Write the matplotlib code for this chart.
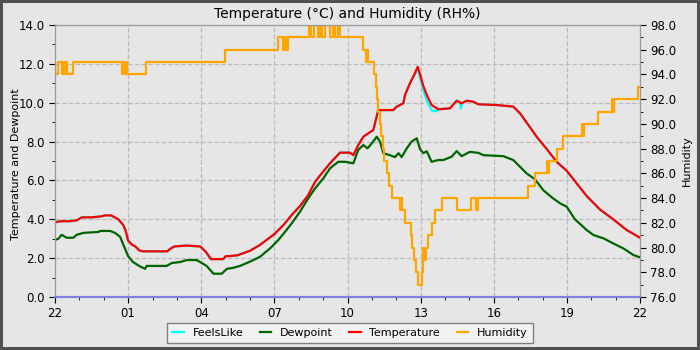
import numpy as np
import pandas as pd
import matplotlib
matplotlib.use("Agg")
import matplotlib.pyplot as plt
import matplotlib.dates as mdates
from matplotlib.ticker import MultipleLocator, FormatStrFormatter

start = pd.Timestamp("2024-01-01 22:00")

# hours after 22:00, readings
temp_hours = [0.0, 0.25, 0.6, 0.9, 1.1, 1.5, 1.9, 2.05, 2.3, 2.45, 2.6, 2.7, 2.8, 2.9,
              3.0, 3.15, 3.3, 3.45, 3.6, 4.6, 4.75, 4.9, 5.4, 5.95, 6.05, 6.2, 6.4,
              6.9, 7.0, 7.2, 7.5, 7.6, 8.0, 8.41, 8.82, 9.0, 9.37, 9.71, 10.05, 10.39,
              10.67, 10.94, 11.28, 11.69, 12.1, 12.24, 12.44, 12.65, 13.06, 13.26,
              13.88, 14.02, 14.29, 14.36, 14.56, 14.7, 14.88, 14.97, 15.1, 15.25,
              15.45, 15.73, 16.2, 16.48, 16.68, 16.89, 17.16, 17.37, 18.12, 18.8,
              19.08, 19.42, 19.76, 20.17, 20.58, 20.99, 21.4, 21.81, 22.36, 22.9,
              23.45, 24.0]
temperature = [3.85, 3.9, 3.9, 3.95, 4.1, 4.1, 4.15, 4.2, 4.2, 4.1, 4.0, 3.85, 3.7, 3.4,
               2.9, 2.7, 2.6, 2.4, 2.35, 2.35, 2.5, 2.6, 2.65, 2.6, 2.5, 2.3, 1.95,
               1.95, 2.1, 2.11, 2.15, 2.2, 2.38, 2.68, 3.07, 3.24, 3.7, 4.22, 4.68, 5.25,
               5.93, 6.36, 6.88, 7.43, 7.43, 7.3, 7.82, 8.25, 8.6, 9.62,
               9.62, 9.8, 9.97, 10.4, 11.0, 11.34, 11.85, 11.5, 10.9, 10.4,
               9.88, 9.66, 9.71, 10.1, 9.97, 10.1, 10.05, 9.92, 9.88, 9.8,
               9.45, 8.85, 8.25, 7.62, 6.96, 6.5, 5.85, 5.2, 4.5, 4.0,
               3.45, 3.05]

feels_hours = [0.0, 0.25, 0.6, 0.9, 1.1, 1.5, 1.9, 2.05, 2.3, 2.45, 2.6, 2.7, 2.8, 2.9,
               3.0, 3.15, 3.3, 3.45, 3.6, 4.6, 4.75, 4.9, 5.4, 5.95, 6.05, 6.2, 6.4,
               6.9, 7.0, 7.2, 7.5, 7.6, 8.0, 8.41, 8.82, 9.0, 9.37, 9.71, 10.05, 10.39,
               10.67, 10.94, 11.28, 11.69, 12.1, 12.24, 12.44, 12.65, 13.06, 13.26,
               13.88, 14.02, 14.29, 14.36, 14.56, 14.7, 14.88, 14.97, 15.1, 15.25,
               15.45, 15.6, 15.73, 16.2, 16.48, 16.6, 16.65, 16.7, 16.89, 17.16, 17.37,
               18.12, 18.8, 19.08, 19.42, 19.76, 20.17, 20.58, 20.99, 21.4, 21.81,
               22.36, 22.9, 23.45, 24.0]
feels_like = [3.85, 3.9, 3.9, 3.95, 4.1, 4.1, 4.15, 4.2, 4.2, 4.1, 4.0, 3.85, 3.7, 3.4,
              2.9, 2.7, 2.6, 2.4, 2.35, 2.35, 2.5, 2.6, 2.65, 2.6, 2.5, 2.3, 1.95,
              1.95, 2.1, 2.11, 2.15, 2.2, 2.38, 2.68, 3.07, 3.24, 3.7, 4.22, 4.68, 5.25,
              5.93, 6.36, 6.88, 7.43, 7.43, 7.3, 7.82, 8.25, 8.6, 9.62,
              9.62, 9.8, 9.97, 10.4, 11.0, 11.34, 11.7, 11.3, 10.7, 10.1,
              9.6, 9.55, 9.66, 9.71, 10.1, 10.05, 9.7, 9.97, 10.1, 10.05, 9.92,
              9.88, 9.8, 9.45, 8.85, 8.25, 7.62, 6.96, 6.5, 5.85, 5.2,
              4.5, 4.0, 3.45, 3.05]

dew_hours = [0.0, 0.14, 0.27, 0.48, 0.75, 0.89, 1.16, 1.78, 1.85, 2.26, 2.46, 2.67, 2.8,
             3.0, 3.2, 3.49, 3.7, 3.76, 4.58, 4.79, 5.13, 5.4, 5.81, 6.02, 6.22, 6.5,
             6.84, 7.05, 7.3, 7.59, 8.0, 8.41, 8.82, 9.16, 9.44, 9.71, 10.05, 10.39,
             10.67, 11.01, 11.28, 11.62, 11.9, 12.24, 12.44, 12.65, 12.82, 12.99,
             13.2, 13.33, 13.47, 13.74, 13.95, 14.09, 14.22, 14.43, 14.63, 14.84,
             14.98, 15.11, 15.25, 15.45, 15.73, 15.93, 16.27, 16.48, 16.68, 17.02,
             17.37, 17.57, 18.39, 18.8, 19.08, 19.35, 19.69, 20.03, 20.38, 20.72,
             20.99, 21.33, 21.81, 22.09, 22.5, 22.9, 23.32, 23.73, 24.0]
dewpoint = [2.94, 3.0, 3.2, 3.05, 3.05, 3.2, 3.3, 3.35, 3.4, 3.4, 3.3, 3.1, 2.7,
            2.1, 1.8, 1.57, 1.45, 1.6, 1.6, 1.75, 1.8, 1.9, 1.9, 1.75, 1.6, 1.2,
            1.2, 1.45, 1.5, 1.6, 1.82, 2.07, 2.5, 2.93, 3.36, 3.79, 4.39, 5.08,
            5.59, 6.11, 6.62, 6.96, 6.96, 6.88, 7.57, 7.82, 7.65, 7.9,
            8.25, 8.0, 7.4, 7.3, 7.2, 7.4, 7.2, 7.65, 8.0, 8.17,
            7.6, 7.4, 7.5, 6.96, 7.05, 7.05, 7.22, 7.51, 7.25, 7.47,
            7.42, 7.3, 7.25, 7.05, 6.7, 6.36, 6.06, 5.5, 5.13, 4.82,
            4.65, 4.0, 3.45, 3.19, 3.02, 2.76, 2.5, 2.16, 2.04]

# humidity changes in whole steps
hum_hours = [0.0, 0.12, 0.28, 0.31, 0.42, 0.45, 0.5, 0.75, 2.75, 2.8, 2.85, 2.9, 2.95,
             3.73, 6.97, 9.16, 9.35, 9.42, 9.47, 9.57, 10.43, 10.51, 10.64, 10.77,
             10.87, 10.94, 11.08, 11.28, 11.42, 11.49, 11.62, 11.69, 12.64, 12.75,
             12.8, 12.85, 13.1, 13.15, 13.2, 13.25, 13.32, 13.38, 13.45, 13.5, 13.6,
             13.72, 13.83, 14.15, 14.2, 14.25, 14.36, 14.6, 14.65, 14.72, 14.8, 14.9,
             15.04, 15.11, 15.15, 15.2, 15.32, 15.45, 15.59, 15.86, 16.5, 17.05,
             17.27, 17.37, 19.39, 19.69, 20.17, 20.22, 20.26, 20.31, 20.61, 20.83,
             21.6, 21.65, 21.7, 21.78, 22.29, 22.87, 22.91, 22.95, 23.93, 24.0]
humidity = [94, 95, 94, 95, 94, 95, 94, 95, 94, 95, 94, 95, 94,
            95, 96, 97, 96, 97, 96, 97, 98, 97, 98, 97,
            98, 97, 98, 97, 98, 97, 98, 97, 96, 95,
            96, 95, 94, 93, 92, 91, 90, 89, 88, 87, 86,
            85, 84, 83, 84, 83, 82, 81, 80, 79, 78, 77,
            78, 80, 79, 80, 81, 82, 83, 84, 83, 84,
            83, 84, 85, 86, 87, 86, 87, 87, 88, 89,
            90, 89, 90, 90, 91, 92, 91, 92, 93, 93]


def to_time(hours):
    return start + pd.to_timedelta(np.array(hours), unit="h")


bg = "#e6e6e6"
fig = plt.figure(figsize=(7, 3.5), dpi=100, facecolor=bg)
fig.patch.set_edgecolor("#505050")
fig.patch.set_linewidth(4)
ax = fig.add_axes([0.0786, 0.1514, 0.8357, 0.7772], facecolor=bg)
ax2 = ax.twinx()

l1, = ax.plot(to_time(feels_hours), feels_like, color="#00ffff", lw=1.6, label="FeelsLike")
l2, = ax.plot(to_time(dew_hours), dewpoint, color="#006400", lw=1.6, label="Dewpoint")
l3, = ax.plot(to_time(temp_hours), temperature, color="#ff0000", lw=1.6, label="Temperature")
l4, = ax2.plot(to_time(hum_hours), humidity, color="#ffa500", lw=1.6,
               drawstyle="steps-post", label="Humidity")

ax.set_xlim(start, start + pd.Timedelta(hours=24))
ax.set_ylim(0, 14)
ax2.set_ylim(76, 98)

ax.xaxis.set_major_locator(mdates.HourLocator(byhour=[1, 4, 7, 10, 13, 16, 19, 22]))
ax.xaxis.set_minor_locator(mdates.HourLocator())
ax.xaxis.set_major_formatter(mdates.DateFormatter("%H"))
ax.yaxis.set_major_locator(MultipleLocator(2))
ax.yaxis.set_minor_locator(MultipleLocator(1))
ax.yaxis.set_major_formatter(FormatStrFormatter("%.1f"))
ax2.yaxis.set_major_locator(MultipleLocator(2))
ax2.yaxis.set_minor_locator(MultipleLocator(1))
ax2.yaxis.set_major_formatter(FormatStrFormatter("%.1f"))

for a in (ax, ax2):
    a.tick_params(which="major", length=4, labelsize=8.5, colors="black")
    a.tick_params(which="minor", length=2)
    for side in ("left", "right", "top"):
        a.spines[side].set_color("#999999")
    a.spines["bottom"].set_color("#7f7fe0")
    a.spines["bottom"].set_linewidth(1.5)

ax.grid(True, which="major", color="#bbbbbb", linestyle="--", linewidth=0.9)
ax.set_axisbelow(True)

ax.set_title("Temperature (°C) and Humidity (RH%)", fontsize=10, pad=5)
ax.set_ylabel("Temperature and Dewpoint", fontsize=8)
ax.yaxis.set_label_coords(-0.058, 0.49)
ax2.set_ylabel("Humidity", fontsize=8)
ax2.yaxis.set_label_coords(1.072, 0.5)

leg = fig.legend(handles=[l1, l2, l3, l4], loc="lower center", bbox_to_anchor=(0.5, 0.005),
                 ncol=4, fontsize=8, handlelength=1.0, columnspacing=1.5,
                 fancybox=False, framealpha=1, facecolor="#f2f2f2", edgecolor="#808080",
                 borderpad=0.45)
leg.get_frame().set_linewidth(1.0)

fig.savefig("out.png", dpi=100, facecolor=bg, edgecolor=fig.get_edgecolor())
